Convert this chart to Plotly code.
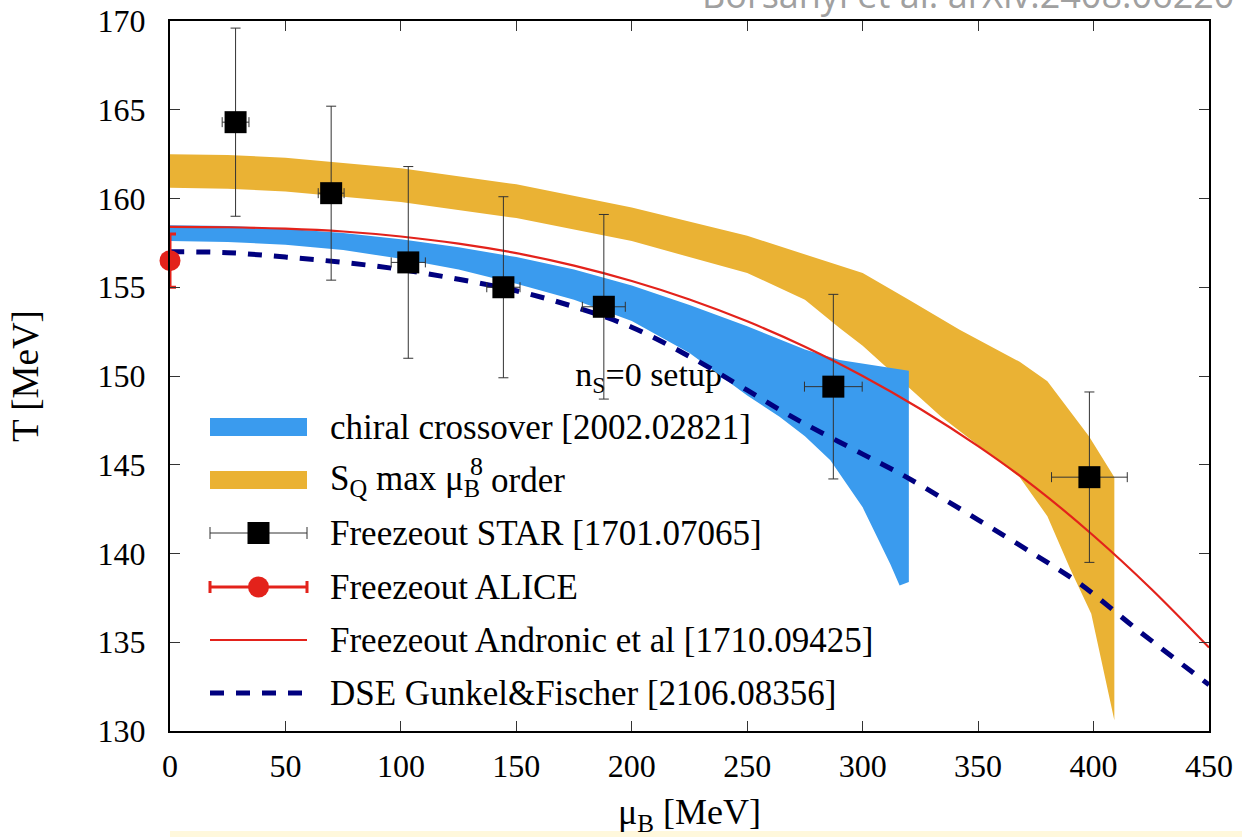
import plotly.graph_objects as go

# ---------------- data ----------------
# STAR freeze-out points
star_mu = [28.4, 69.8, 103.2, 144.4, 187.9, 287.3, 398.2]
star_mu_err = [5.8, 5.6, 7.4, 7.2, 9.3, 12.5, 16.4]
star_T = [164.3, 160.3, 156.4, 155.0, 153.9, 149.4, 144.3]
star_T_err = [5.3, 4.9, 5.4, 5.1, 5.2, 5.2, 4.8]

# ALICE freeze-out
alice_mu = [0.0]
alice_T = [156.5]
alice_T_err = [1.5]

# Andronic et al. freeze-out curve
andr_mu = [0, 25, 50, 75, 100, 125, 150, 175, 200, 225, 250, 275, 300, 325, 350, 375, 400, 425, 450]
andr_T = [158.4, 158.38, 158.3, 158.14, 157.86, 157.46, 156.92, 156.22, 155.35, 154.31, 153.08,
          151.65, 150.0, 148.14, 146.05, 143.7, 141.0, 138.0, 134.7]

# DSE Gunkel & Fischer
dse_mu = [0, 25, 50, 75, 100, 125, 150, 175, 200, 225, 250, 264, 275, 300, 319, 350, 375, 394, 420, 450]
dse_T = [157.0, 156.95, 156.7, 156.4, 156.0, 155.45, 154.8, 153.9, 152.75, 151.1, 149.2, 148.1, 147.3,
         145.6, 144.3, 141.9, 139.9, 138.3, 135.6, 132.6]

# chiral crossover band [2002.02821]
chiral_mu_top = [0, 25, 50, 75, 100, 125, 150, 175, 200, 225, 250, 275, 290, 300, 312, 320]
chiral_T_top = [158.5, 158.45, 158.3, 158.05, 157.7, 157.25, 156.7, 156.0, 155.1, 154.0, 152.8, 151.5,
                150.9, 150.7, 150.45, 150.3]
chiral_mu_bot = [0, 25, 50, 75, 100, 125, 150, 175, 200, 225, 250, 264, 275, 286, 300, 312, 316, 320]
chiral_T_bot = [157.6, 157.55, 157.4, 157.1, 156.6, 156.0, 155.2, 154.3, 153.1, 151.3, 148.9, 147.7,
                146.6, 145.25, 142.6, 139.4, 138.2, 138.4]

# S_Q max mu_B^8 order band
sq_mu_top = [0, 25, 50, 100, 150, 200, 250, 300, 320, 342, 368, 380, 398, 409]
sq_T_top = [162.5, 162.45, 162.3, 161.7, 160.8, 159.5, 157.9, 155.8, 154.3, 152.6, 150.8, 149.7, 146.6, 144.3]
sq_mu_bot = [0, 25, 50, 100, 150, 200, 250, 275, 290, 300, 334, 368, 380, 390, 399, 409]
sq_T_bot = [160.6, 160.55, 160.4, 159.8, 158.9, 157.6, 155.8, 154.3, 152.7, 151.7, 147.7, 144.3, 142.1,
            139.1, 136.6, 130.6]

x_ticks = [0, 50, 100, 150, 200, 250, 300, 350, 400, 450]
y_ticks = [130, 135, 140, 145, 150, 155, 160, 165, 170]

legend_labels = [
    "chiral crossover [2002.02821]",
    "S<sub>Q</sub> max μ<sub>B</sub>",
    "Freezeout STAR [1701.07065]",
    "Freezeout ALICE",
    "Freezeout Andronic et al [1710.09425]",
    "DSE Gunkel&Fischer [2106.08356]",
]

# ---------------- style ----------------
BLUE = "#3A9BEE"
ORANGE = "#EAB234"
RED = "#E3221B"
NAVY = "#00007F"
SERIF = "Liberation Serif"

fig = go.Figure()

# setup label (drawn first so the band covers it like in the original)
fig.add_trace(go.Scatter(x=[175.5], y=[149.9], mode="text", text=["n<sub>S</sub>=0 setup"],
                         textposition="middle right", textfont=dict(family=SERIF, size=34, color="black"),
                         showlegend=False, hoverinfo="skip"))

# S_Q band
fig.add_trace(go.Scatter(x=sq_mu_top + sq_mu_bot[::-1], y=sq_T_top + sq_T_bot[::-1],
                         fill="toself", fillcolor=ORANGE, line=dict(width=0, color=ORANGE),
                         mode="lines", showlegend=False))
# chiral band
fig.add_trace(go.Scatter(x=chiral_mu_top + chiral_mu_bot[::-1], y=chiral_T_top + chiral_T_bot[::-1],
                         fill="toself", fillcolor=BLUE, line=dict(width=0, color=BLUE),
                         mode="lines", showlegend=False))
# Andronic
fig.add_trace(go.Scatter(x=andr_mu, y=andr_T, mode="lines", line=dict(color=RED, width=2.2, shape="spline"),
                         showlegend=False))
# DSE
fig.add_trace(go.Scatter(x=dse_mu, y=dse_T, mode="lines",
                         line=dict(color=NAVY, width=5, dash="14px,12px", shape="spline"),
                         showlegend=False))
# STAR
fig.add_trace(go.Scatter(x=star_mu, y=star_T, mode="markers",
                         marker=dict(symbol="square", size=22, color="black"),
                         error_x=dict(type="data", array=star_mu_err, color="#333333", thickness=1, width=5),
                         error_y=dict(type="data", array=star_T_err, color="#333333", thickness=1, width=5),
                         showlegend=False))
# ALICE
fig.add_trace(go.Scatter(x=alice_mu, y=alice_T, mode="markers", cliponaxis=False,
                         marker=dict(symbol="circle", size=21, color=RED),
                         error_y=dict(type="data", array=alice_T_err, color=RED, thickness=3, width=6),
                         showlegend=False))

# ---------------- manual legend (overlay axes in 0..1 units) ----------------
W_PLOT, H_PLOT, L, T = 1039, 710, 170, 21
def fx(px):
    return (px - L) / W_PLOT
def fy(py):
    return (T + H_PLOT - py) / H_PLOT

row_y = [427, 480, 533, 587, 640, 693]
s0, s1 = 210, 307
shapes = []
for i, col in enumerate([BLUE, ORANGE]):
    shapes.append(dict(type="rect", xref="paper", yref="paper", x0=fx(s0), x1=fx(s1),
                       y0=fy(row_y[i] + 9), y1=fy(row_y[i] - 9), fillcolor=col, line=dict(width=0)))
# light strip at bottom of the page
shapes.append(dict(type="rect", xref="paper", yref="paper", x0=0, x1=fx(1242),
                   y0=fy(837), y1=fy(831), fillcolor="#FFF8DC", line=dict(width=0), layer="below"))

half = (s1 - s0) / 2 / W_PLOT
mid = fx((s0 + s1) / 2)
fig.add_trace(go.Scatter(x=[mid], y=[fy(row_y[2])], xaxis="x2", yaxis="y2", mode="markers",
                         marker=dict(symbol="square", size=22, color="black"),
                         error_x=dict(type="constant", value=half, color="#333333", thickness=1, width=6),
                         showlegend=False, hoverinfo="skip"))
fig.add_trace(go.Scatter(x=[mid], y=[fy(row_y[3])], xaxis="x2", yaxis="y2", mode="markers",
                         marker=dict(symbol="circle", size=21, color=RED),
                         error_x=dict(type="constant", value=half, color=RED, thickness=3, width=6),
                         showlegend=False, hoverinfo="skip"))
fig.add_trace(go.Scatter(x=[fx(s0), fx(s1)], y=[fy(row_y[4])] * 2, xaxis="x2", yaxis="y2", mode="lines",
                         line=dict(color=RED, width=2.2), showlegend=False, hoverinfo="skip"))
fig.add_trace(go.Scatter(x=[fx(s0), fx(s1)], y=[fy(row_y[5])] * 2, xaxis="x2", yaxis="y2", mode="lines",
                         line=dict(color=NAVY, width=5, dash="14px,12px"), showlegend=False, hoverinfo="skip"))

annotations = []
for lab, ry in zip(legend_labels, row_y):
    annotations.append(dict(xref="paper", yref="paper", x=fx(328), y=fy(ry), xanchor="left", yanchor="middle",
                            text=lab, showarrow=False, font=dict(family=SERIF, size=35, color="black")))
# stacked exponent and rest of the S_Q label
annotations.append(dict(xref="paper", yref="paper", x=fx(476), y=fy(466), xanchor="center", yanchor="middle",
                        text="8", showarrow=False, font=dict(family=SERIF, size=26, color="black")))
annotations.append(dict(xref="paper", yref="paper", x=fx(489), y=fy(row_y[1]), xanchor="left", yanchor="middle",
                        text="order", showarrow=False, font=dict(family=SERIF, size=35, color="black")))
annotations.append(dict(xref="paper", yref="paper", x=fx(1236), y=1.0, xanchor="right", yanchor="bottom",
                        text="Borsanyi et al. arXiv:2408.06220", showarrow=False,
                        font=dict(family="Open Sans", size=36, color="#A0A0A0")))

axis_common = dict(showline=True, linecolor="black", linewidth=2, mirror="ticks", ticks="inside",
                   ticklen=10, tickwidth=1, tickcolor="#333333", showgrid=False, zeroline=False,
                   automargin=False, tickfont=dict(family=SERIF, size=32, color="black"))

fig.update_layout(
    width=1242, height=837,
    margin=dict(l=L, r=1242 - L - W_PLOT, t=T, b=837 - T - H_PLOT),
    paper_bgcolor="white", plot_bgcolor="white",
    xaxis=dict(range=[0, 450], tickvals=x_ticks, ticktext=[str(v) for v in x_ticks], ticklabelstandoff=6,
               title=dict(text="μ<sub>B</sub> [MeV]", font=dict(family=SERIF, size=36, color="black"), standoff=17),
               **axis_common),
    yaxis=dict(range=[130, 170], tickvals=y_ticks, ticktext=[str(v) for v in y_ticks], ticklabelstandoff=16,
               title=dict(text="T [MeV]", font=dict(family=SERIF, size=37, color="black"), standoff=48),
               **axis_common),
    xaxis2=dict(overlaying="x", range=[0, 1], visible=False),
    yaxis2=dict(overlaying="y", range=[0, 1], visible=False),
    shapes=shapes,
    annotations=annotations,
    showlegend=False,
)

fig.write_html("out.html")
